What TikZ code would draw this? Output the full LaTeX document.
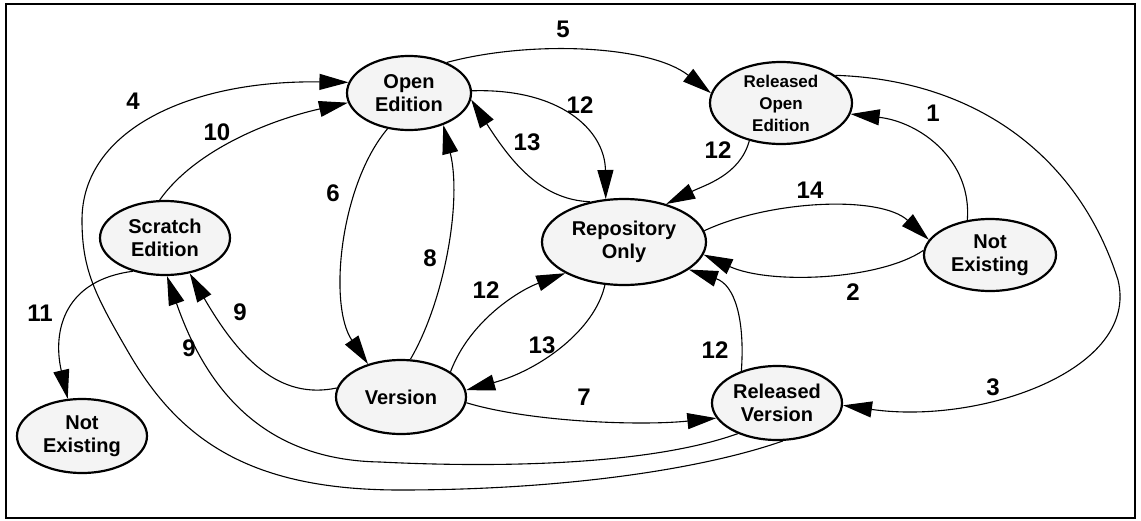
\documentclass[tikz,border=0pt]{standalone}
\usepackage{fontspec}
\setmainfont{Liberation Sans}
\usetikzlibrary{shapes.geometric,arrows.meta}
\definecolor{statefill}{HTML}{F4F4F4}
\begin{document}
\begin{tikzpicture}[x=1pt,y=-1pt,
  state/.style={ellipse,draw,line width=2.2pt,fill=statefill,inner sep=0pt,
    align=center,font=\fontsize{20}{23}\selectfont\bfseries},
  trans/.style={line width=1.1pt,-{Triangle[length=29pt,width=16pt]}},
  num/.style={font=\fontsize{24}{24}\selectfont\bfseries,inner sep=0pt}]
\useasboundingbox (0,0) rectangle (1141,520);
\draw[line width=2pt] (6,4) rectangle (1135,518);

% states
\node[state,minimum width=124pt,minimum height=74pt] (oe) at (409,93) {Open\\Edition};
\node[state,minimum width=142pt,minimum height=82pt,font=\fontsize{17}{22}\selectfont\bfseries] (roe) at (781,103) {Released\\Open\\Edition};
\node[state,minimum width=130pt,minimum height=74pt] (se) at (165,238) {Scratch\\Edition};
\node[state,minimum width=164pt,minimum height=86pt] (ro) at (624,242) {Repository\\Only};
\node[state,minimum width=132pt,minimum height=72pt] (ner) at (990,255) {Not\\Existing};
\node[state,minimum width=130pt,minimum height=74pt] (ver) at (401,397) {Version};
\node[state,minimum width=130pt,minimum height=74pt] (rv) at (777,403) {Released\\Version};
\node[state,minimum width=130pt,minimum height=74pt] (nel) at (82,436) {Not\\Existing};

% transitions
\draw[trans] (ner.123) .. controls (972,160) and (920,122) .. (roe.-9);
\draw[trans] (ner.176) .. controls (880,280) and (770,285) .. (ro.-9);
\draw[trans] (roe.27) .. controls (980,80) and (1080,160) .. (1118,280)
  .. controls (1140,370) and (980,425) .. (rv.-2);
\draw[trans] (rv.-81) .. controls (700,470) and (560,490) .. (400,490)
  .. controls (250,490) and (180,440) .. (130,355)
  .. controls (95,295) and (82,270) .. (82,220)
  .. controls (82,130) and (190,80) .. (oe.170);
\draw[trans] (oe.39) .. controls (530,40) and (650,45) .. (roe.172);
\draw[trans] (oe.239) .. controls (340,185) and (328,305) .. (ver.135);
\draw[trans] (ver.-5) .. controls (530,422) and (640,426) .. (rv.194);
\draw[trans] (ver.76) .. controls (445,300) and (462,200) .. (oe.-43);
\draw[trans] (ver.172) .. controls (280,400) and (240,360) .. (se.-55);
\draw[trans] (rv.218) .. controls (650,465) and (500,468) .. (380,462)
  .. controls (260,460) and (205,385) .. (se.-87);
\draw[trans] (se.98) .. controls (195,150) and (270,120) .. (oe.189);
\draw[trans] (se.226) .. controls (65,280) and (52,330) .. (nel.111);
\draw[trans] (oe.2) .. controls (560,88) and (605,130) .. (ro.113);
\draw[trans] (roe.230) .. controls (740,175) and (705,185) .. (ro.42);
\draw[trans] (ver.27) .. controls (470,320) and (520,290) .. (ro.208);
\draw[trans] (rv.138) .. controls (745,320) and (735,285) .. (ro.-23);
\draw[trans] (ro.130) .. controls (540,200) and (510,160) .. (oe.-6);
\draw[trans] (ro.-114) .. controls (595,330) and (540,370) .. (ver.6);
\draw[trans] (ro.8) .. controls (770,200) and (880,195) .. (ner.166);

% transition numbers
\node[num] (n1) at (933,113) {1};
\node[num] (n2) at (853,292) {2};
\node[num] (n3) at (993,387) {3};
\node[num] (n4) at (133,101) {4};
\node[num] (n5) at (563,29) {5};
\node[num] (n6) at (333,193) {6};
\node[num] (n7) at (584,397) {7};
\node[num] (n8) at (430,258) {8};
\node[num] (n9a) at (240,312) {9};
\node[num] (n9b) at (189,348) {9};
\node[num] (n10) at (217,132) {10};
\node[num] (n11) at (40,313) {11};
\node[num] (n12a) at (580,105) {12};
\node[num] (n12b) at (718,150) {12};
\node[num] (n12c) at (486,290) {12};
\node[num] (n12d) at (715,350) {12};
\node[num] (n13a) at (527,142) {13};
\node[num] (n13b) at (542,345) {13};
\node[num] (n14) at (810,190) {14};
\end{tikzpicture}
\end{document}
